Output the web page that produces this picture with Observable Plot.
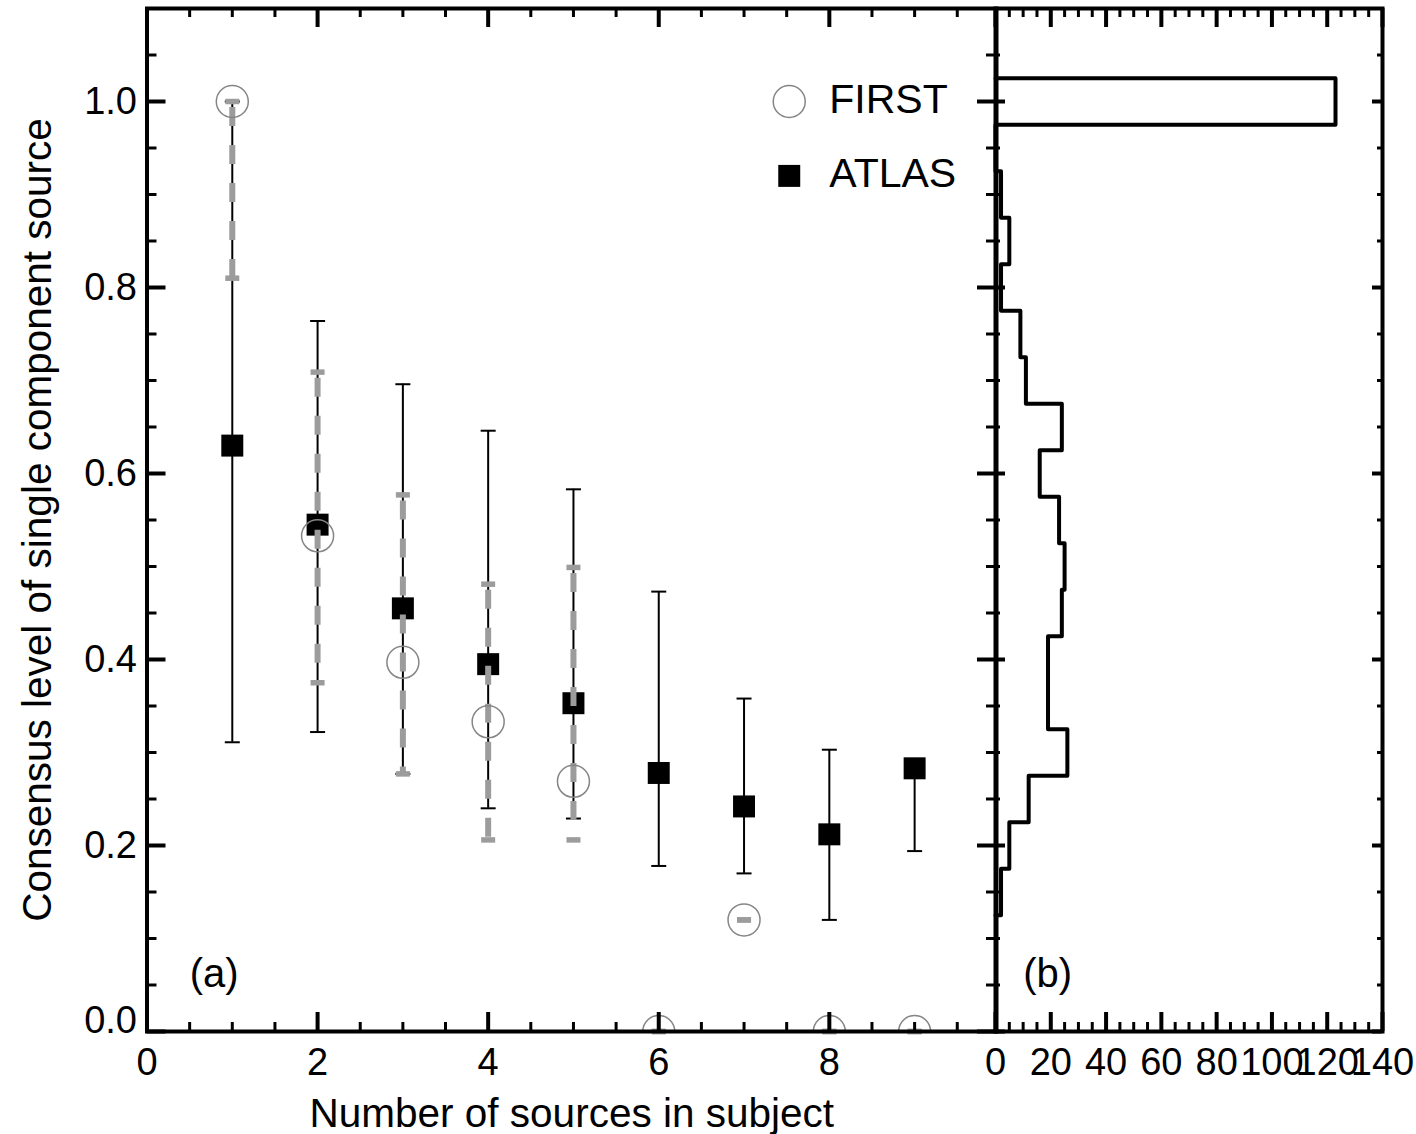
<!DOCTYPE html>
<html><head><meta charset="utf-8">
<script src="https://cdn.jsdelivr.net/npm/d3@7"></script>
<script src="https://cdn.jsdelivr.net/npm/@observablehq/plot@0.6"></script>
<style>
html,body{margin:0;padding:0;background:#fff;}
#chart{position:relative;width:1416px;height:1134px;}
#chart svg{position:absolute;left:0;top:0;}
</style></head><body><div id="chart"></div>
<script>
// ---- data ----
const nSources = [1, 2, 3, 4, 5, 6, 7, 8, 9];
const atlasVal = [0.630, 0.545, 0.455, 0.395, 0.353, 0.278, 0.242, 0.212, 0.283];
const atlasLo  = [0.311, 0.322, 0.277, 0.240, 0.229, 0.178, 0.170, 0.120, 0.194];
const atlasHi  = [1.000, 0.764, 0.696, 0.646, 0.583, 0.473, 0.358, 0.303, 0.283];
const firstVal = [1.000, 0.533, 0.397, 0.333, 0.269, 0.000, 0.120, 0.000, 0.000];
const firstLo  = [0.810, 0.375, 0.277, 0.206, 0.206, 0.000, 0.120, 0.000, 0.000];
const firstHi  = [1.000, 0.709, 0.577, 0.481, 0.499, 0.000, 0.120, 0.000, 0.000];

const histBinStart = [0.125, 0.175, 0.225, 0.275, 0.325, 0.375, 0.425, 0.475, 0.525,
                      0.575, 0.625, 0.675, 0.725, 0.775, 0.825, 0.875, 0.925, 0.975];
const histCounts   = [2, 5, 12, 26, 19, 19, 24, 25, 23, 16, 24, 11, 9, 2, 5, 2, 0, 123];
const histBinWidth = 0.05;

const xTicksA = [0, 2, 4, 6, 8];
const xTicksB = [0, 20, 40, 60, 80, 100, 120, 140];
const yTicks  = [0.2, 0.4, 0.6, 0.8, 1.0];
const legendLabels = ["FIRST", "ATLAS"];
const xTitle = "Number of sources in subject";
const yTitle = "Consensus level of single component source";

// ---- derived tables ----
const atlas = nSources.map((n, i) => ({n, v: atlasVal[i], lo: atlasLo[i], hi: atlasHi[i]}));
const first = nSources.map((n, i) => ({n, v: firstVal[i], lo: firstLo[i], hi: firstHi[i]}));
const histPts = [{c: 0, y: histBinStart[0]}]
  .concat(histBinStart.map((b, i) => ({c: histCounts[i], y: b})))
  .concat([{c: 0, y: histBinStart[histBinStart.length - 1] + histBinWidth}]);

const xMinorA = d3.range(0.5, 10, 0.5).filter(v => v % 2 !== 0);
const xMinorB = d3.range(5, 140, 5).filter(v => v % 20 !== 0);
const yMajorAll = [0, ...yTicks];
const yMinor = d3.range(0.05, 1.1, 0.05).filter(v => Math.abs(v / 0.2 - Math.round(v / 0.2)) > 1e-6);

const GRAY = "#9c9c9c";
const CIRC = "#858585";
const FONT = "'Liberation Sans', Arial, Helvetica, sans-serif";
const capSymbol = {draw(ctx, size) { const r = Math.sqrt(size / Math.PI); ctx.moveTo(-r, 0); ctx.lineTo(r, 0); }};

const W = 1416, H = 1134, MT = 8, MB = 103;
const innerH = H - MT - MB;
const style = {background: "transparent", fontFamily: FONT, fontSize: "38px", color: "black", overflow: "visible"};

function ticks(innerW, xMaj, xMin, lenX, lenXm, lenY, lenYm) {
  return [
    Plot.ruleX(xMaj, {x: d => d, insetTop: innerH - lenX, stroke: "black", strokeWidth: 4}),
    Plot.ruleX(xMaj, {x: d => d, insetBottom: innerH - lenX, stroke: "black", strokeWidth: 4}),
    Plot.ruleX(xMin, {x: d => d, insetTop: innerH - lenXm, stroke: "black", strokeWidth: 3}),
    Plot.ruleX(xMin, {x: d => d, insetBottom: innerH - lenXm, stroke: "black", strokeWidth: 3}),
    Plot.ruleY(yMajorAll, {y: d => d, insetRight: innerW - lenY, stroke: "black", strokeWidth: 4}),
    Plot.ruleY(yMajorAll, {y: d => d, insetLeft: innerW - lenY, stroke: "black", strokeWidth: 4}),
    Plot.ruleY(yMinor, {y: d => d, insetRight: innerW - lenYm, stroke: "black", strokeWidth: 3}),
    Plot.ruleY(yMinor, {y: d => d, insetLeft: innerW - lenYm, stroke: "black", strokeWidth: 3}),
    Plot.frame({stroke: "black", strokeWidth: 4})
  ];
}

// ---- panel (a) ----
const aLeft = 146.5, aRight = 996;
const plotA = Plot.plot({
  width: W, height: H,
  marginLeft: aLeft, marginRight: W - aRight, marginTop: MT, marginBottom: MB,
  style,
  x: {domain: [0, 9.96]},
  y: {domain: [0, 1.1]},
  marks: [
    // ATLAS error bars
    Plot.ruleX(atlas, {x: "n", y1: "lo", y2: "hi", stroke: "black", strokeWidth: 2}),
    Plot.dot(atlas, {x: "n", y: "lo", symbol: capSymbol, r: 7.5, stroke: "black", strokeWidth: 2, fill: "none"}),
    Plot.dot(atlas, {x: "n", y: "hi", symbol: capSymbol, r: 7.5, stroke: "black", strokeWidth: 2, fill: "none"}),
    Plot.dot(atlas, {x: "n", y: "v", symbol: "square", r: 12.4, fill: "black", stroke: "none"}),
    // FIRST error bars
    Plot.ruleX(first.filter(d => d.hi > d.lo), {x: "n", y1: "hi", y2: "lo", stroke: GRAY, strokeWidth: 6,
      strokeDasharray: "19,19", strokeDashoffset: 32}),
    Plot.dot(first, {x: "n", y: "lo", symbol: capSymbol, r: 7, stroke: GRAY, strokeWidth: 5.5, fill: "none"}),
    Plot.dot(first, {x: "n", y: "hi", symbol: capSymbol, r: 7, stroke: GRAY, strokeWidth: 5.5, fill: "none"}),
    Plot.dot(first, {x: "n", y: "v", r: 16, stroke: CIRC, strokeWidth: 1.5, fill: "none", clip: true}),
    // legend
    Plot.dot([legendLabels[0]], {x: () => 7.53, y: () => 1.0, r: 16, stroke: CIRC, strokeWidth: 1.5, fill: "none"}),
    Plot.dot([legendLabels[1]], {x: () => 7.53, y: () => 0.92, symbol: "square", r: 12.4, fill: "black"}),
    Plot.text(legendLabels, {x: () => 8.0, y: (d, i) => i === 0 ? 1.0 : 0.92, text: d => d, textAnchor: "start",
      lineAnchor: "middle", dy: -2, fontSize: 41}),
    // panel label
    Plot.text(["(a)"], {x: () => 0.5, y: () => 0.048, text: d => d, textAnchor: "start", lineAnchor: "bottom", fontSize: 40}),
    ...ticks(aRight - aLeft, xTicksA, xMinorA, 19, 9, 19, 10),
    Plot.axisX({ticks: xTicksA, tickSize: 0, tickPadding: 17, tickFormat: d3.format("d"), fontSize: 38, label: null}),
    Plot.axisY({ticks: yTicks, tickSize: 0, tickPadding: 10, tickFormat: d3.format(".1f"), fontSize: 38, label: null}),
    Plot.axisY({ticks: [0], tickSize: 0, tickPadding: 10, tickFormat: d3.format(".1f"), fontSize: 38, label: null, dy: -11}),
    Plot.text([xTitle], {frameAnchor: "bottom", text: d => d, dy: 95, lineAnchor: "bottom", fontSize: 40.5}),
    Plot.text([yTitle], {frameAnchor: "left", text: d => d, rotate: -90, dx: -96.5, textAnchor: "middle",
      lineAnchor: "bottom", fontSize: 40.5})
  ]
});

// ---- panel (b) ----
const bLeft = 995, bRight = 1382;
const plotB = Plot.plot({
  width: W, height: H,
  marginLeft: bLeft, marginRight: W - bRight, marginTop: MT, marginBottom: MB,
  style,
  x: {domain: [0, 140]},
  y: {domain: [0, 1.1]},
  marks: [
    Plot.line(histPts, {x: "c", y: "y", curve: "step-before", stroke: "black", strokeWidth: 4}),
    Plot.text(["(b)"], {x: () => 10, y: () => 0.048, text: d => d, textAnchor: "start", lineAnchor: "bottom", fontSize: 40}),
    ...ticks(bRight - bLeft, xTicksB, xMinorB, 19, 9, 10, 5),
    Plot.axisX({ticks: xTicksB, tickSize: 0, tickPadding: 17, tickFormat: d3.format("d"), fontSize: 38, label: null}),
    Plot.axisY({ticks: [], tickSize: 0, label: null})
  ]
});

const chart = document.getElementById("chart");
chart.append(plotA, plotB);
</script></body></html>
